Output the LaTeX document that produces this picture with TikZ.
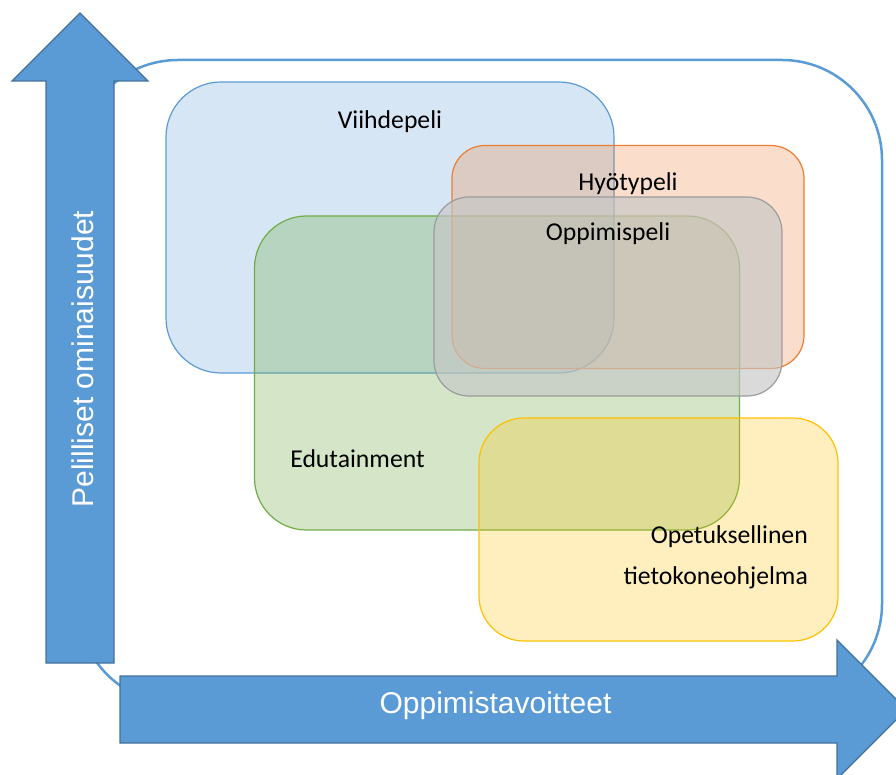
\documentclass[tikz,border=0pt]{standalone}
\usepackage{fontspec}
\setmainfont{Carlito}
\newfontfamily\arialfont{Liberation Sans}
\definecolor{cblue}{HTML}{5B9BD5}
\definecolor{cbluedark}{HTML}{41719C}
\definecolor{corange}{HTML}{ED7D31}
\definecolor{cgray}{HTML}{C6C6C6}
\definecolor{cgrayline}{HTML}{9C9C9C}
\definecolor{cgreen}{HTML}{70AD47}
\definecolor{cyellow}{HTML}{FFC000}
\tikzset{
  area/.style={rectangle, draw, line width=1.2pt, inner sep=0pt, outer sep=0pt},
  areatext/.style={font=\fontsize{25.7}{30}\selectfont, text=black, anchor=base, inner sep=0pt},
  axisbar/.style={draw=cbluedark, line width=1.3pt, fill=cblue, line join=miter},
  axistext/.style={font=\arialfont\fontsize{30}{36}\selectfont, text=white, anchor=base, inner sep=0pt}
}
\begin{document}
\begin{tikzpicture}[x=1pt, y=-1pt]
  \useasboundingbox (0,0) rectangle (896,775);
  \clip (0,0) rectangle (896,775);

  % outer frame
  \node[area, draw=cblue, line width=2.5pt, rounded corners=100pt,
        minimum width=804pt, minimum height=644pt] (frame) at (480,382) {};

  % overlapping categories
  \node[area, draw=cblue, fill=cblue, fill opacity=0.25, rounded corners=55pt,
        minimum width=448pt, minimum height=291pt] (viihde) at (390,227.5) {};
  \node[area, draw=cgreen, fill=cgreen, fill opacity=0.3, rounded corners=52pt,
        minimum width=485pt, minimum height=314pt] (edu) at (497,373) {};
  \node[area, draw=corange, fill=corange, fill opacity=0.25, rounded corners=33pt,
        minimum width=352pt, minimum height=223pt] (hyoty) at (628,257) {};
  \node[area, draw=cgrayline, fill=cgray, fill opacity=0.65, rounded corners=35pt,
        minimum width=348pt, minimum height=199pt] (oppimis) at (608,296.5) {};
  \node[area, draw=cyellow, fill=cyellow, fill opacity=0.25, rounded corners=45pt,
        minimum width=359pt, minimum height=223pt] (opetus) at (658.5,529.5) {};

  % labels
  \node[areatext] (tviihde) at (390,129) {Viihdepeli};
  \node[areatext] (thyoty) at (628,191) {Hyötypeli};
  \node[areatext] (toppimis) at (608,241) {Oppimispeli};
  \node[areatext] (tedu) at (357.5,467) {Edutainment};
  \node[areatext, anchor=base east] (topetus1) at (808,543) {Opetuksellinen};
  \node[areatext, anchor=base east] (topetus2) at (808,584) {tietokoneohjelma};

  % axes
  \draw[axisbar] (80,13) -- (148,81) -- (114,81) -- (114,663) -- (46,663)
                 -- (46,81) -- (12,81) -- cycle;
  \draw[axisbar] (120,676) -- (837,676) -- (837,640) -- (906.5,709.5)
                 -- (837,779) -- (837,743) -- (120,743) -- cycle;
  \node[axistext, rotate=90] (ylabel) at (93,359) {Pelilliset ominaisuudet};
  \node[axistext] (xlabel) at (495.5,713) {Oppimistavoitteet};
\end{tikzpicture}
\end{document}
